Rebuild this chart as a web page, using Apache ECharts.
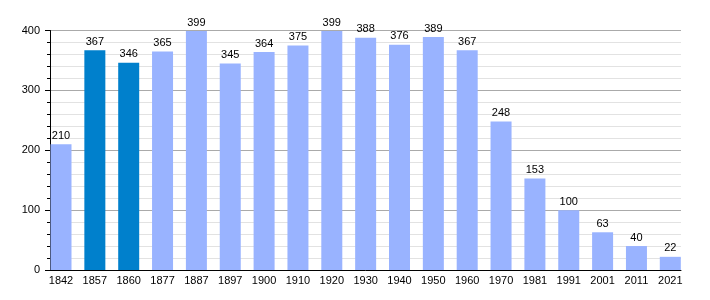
<!DOCTYPE html>
<html>
<head>
<meta charset="utf-8">
<script src="https://cdn.jsdelivr.net/npm/echarts@6/dist/echarts.min.js"></script>
<style>html,body{margin:0;padding:0;background:#fff}#c{width:710px;height:300px}</style>
</head>
<body>
<div id="c"></div>
<script>
var years = ['1842','1857','1860','1877','1887','1897','1900','1910','1920','1930','1940','1950','1960','1970','1981','1991','2001','2011','2021'];
var population = [210,367,346,365,399,345,364,375,399,388,376,389,367,248,153,100,63,40,22];
var highlighted = ['1857','1860'];
var yTicks = [0,100,200,300,400];

var lightColor = '#99b3ff';
var darkColor = '#0080cc';
var font = 'Liberation Sans, Arial, sans-serif';

var chart = echarts.init(document.getElementById('c'), null, {renderer:'canvas'});
var barData = population.map(function(v,i){
  return {value:v, itemStyle:{color: highlighted.indexOf(years[i])>=0 ? darkColor : lightColor}};
});
var bandW = 33.85, barW = 21;
var firstLeft = 50.5;
var gLeft = firstLeft - (bandW-barW)/2;
var gWidth = bandW*years.length;

chart.setOption({
  animation:false,
  grid:[
    {left:50, right:29, top:30.5, bottom:30, containLabel:false},
    {left:gLeft, width:gWidth, top:30.5, bottom:30, containLabel:false}
  ],
  xAxis:[
    {type:'value', gridIndex:0, min:0, max:1, axisLine:{show:true, lineStyle:{color:'#000', width:1}},
     axisTick:{show:false}, axisLabel:{show:false}, splitLine:{show:false}},
    {type:'category', gridIndex:1, data:years, axisLine:{show:false}, axisTick:{show:false},
     axisLabel:{color:'#000', fontSize:11, fontFamily:font, margin:5, interval:0}}
  ],
  yAxis:[
    {type:'value', gridIndex:0, min:0, max:400, interval:100,
     axisLine:{show:true, lineStyle:{color:'#000'}},
     axisTick:{show:true, length:5, lineStyle:{color:'#000'}},
     minorTick:{show:true, splitNumber:5, length:3, lineStyle:{color:'#000'}},
     axisLabel:{color:'#000', fontSize:11, fontFamily:font, margin:10,
       formatter:function(v){return yTicks.indexOf(v)>=0 ? String(v) : '';}},
     splitLine:{show:true, lineStyle:{color:'#aaaaaa', width:1}},
     minorSplitLine:{show:true, lineStyle:{color:'#e2e2e2', width:1}}},
    {type:'value', gridIndex:1, min:0, max:400, show:false, splitLine:{show:false}}
  ],
  series:[{
    type:'bar', xAxisIndex:1, yAxisIndex:1, data:barData, barWidth:barW,
    label:{show:true, position:'top', distance:3, color:'#000', fontSize:11, fontFamily:font}
  }]
});
</script>
</body>
</html>
